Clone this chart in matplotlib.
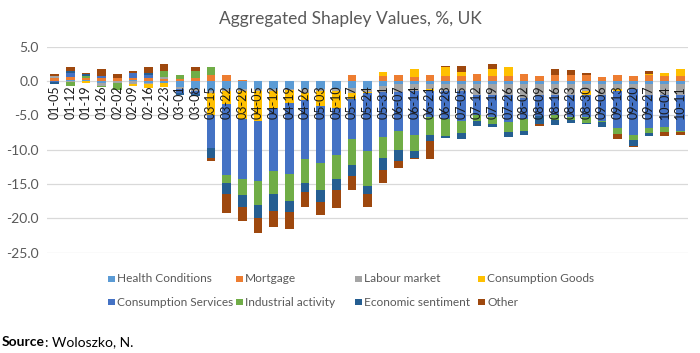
import matplotlib
matplotlib.use("Agg")
import matplotlib.pyplot as plt
from matplotlib.patches import Rectangle
import numpy as np

plt.rcParams['font.family'] = ['Lato', 'DejaVu Sans']

dates = ["01-05", "01-12", "01-19", "01-26", "02-02", "02-09", "02-16", "02-23", "03-01", "03-08",
         "03-15", "03-22", "03-29", "04-05", "04-12", "04-19", "04-26", "05-03", "05-10", "05-17",
         "05-24", "05-31", "06-07", "06-14", "06-21", "06-28", "07-05", "07-12", "07-19", "07-26",
         "08-02", "08-09", "08-16", "08-23", "08-30", "09-06", "09-13", "09-20", "09-27", "10-04",
         "10-11"]

health = [0.0, 0.2, 0.1, -0.3, 0.0, 0.1, -0.3, -0.3, -0.9, -1.2,
          -1.5, -1.2, -1.2, -1.2, -1.2, -1.2, -1.2, -1.2, -1.2, -1.0,
          -1.2, -0.8, -0.5, -0.5, -0.5, -0.5, -0.5, -0.5, -0.4, -0.4,
          -0.4, -0.4, -0.4, -0.4, -0.4, -0.4, -0.4, -0.4, -0.4, -0.4,
          -0.4]
mortgage = [0.5, 0.4, 0.4, 0.4, 0.5, 0.4, 0.4, 0.3, 0.3, 0.4,
            0.9, 0.8, 0.1, 0.0, 0.0, 0.0, 0.0, 0.0, 0.0, 0.9,
            0.0, 0.7, 0.9, 0.6, 0.8, 0.7, 0.7, 1.0, 0.7, 0.7,
            1.0, 0.7, 0.9, 0.9, 0.8, 0.6, 0.8, 0.7, 0.8, 0.7,
            0.7]
labour = [0.2, -0.2, 0.0, -0.4, -0.3, -0.4, -0.2, 0.3, -0.3, -0.3,
          -0.3, -0.3, -0.2, -0.2, -0.2, -0.1, -0.5, -0.2, -0.3, -0.8,
          -0.4, -0.8, -1.1, -1.0, -0.7, -1.0, -1.0, -1.5, -1.6, -1.6,
          -2.1, -1.6, -1.6, -1.6, -1.1, -1.6, -0.8, -0.8, -1.6, -1.6,
          -1.6]
goods = [0.0, 0.0, -0.3, 0.0, 0.0, -0.3, -0.5, -0.6, 0.0, 0.0,
         -3.1, -1.8, -4.2, -4.4, -2.6, -1.9, -1.0, -2.2, -2.5, -0.8,
         -0.2, 0.6, 0.0, 1.2, -0.3, 1.4, 0.6, 0.0, 1.0, 1.3,
         0.0, 0.0, 0.0, 0.0, -0.5, 0.0, -0.3, 0.0, 0.2, 0.4,
         1.0]
services = [-0.1, 0.5, 0.0, 0.3, 0.0, 0.6, 0.4, 0.0, -0.6, -0.4,
            -4.9, -10.4, -8.6, -8.8, -9.1, -10.4, -8.7, -8.4, -6.8, -5.9,
            -8.4, -6.6, -5.7, -6.3, -3.7, -4.0, -4.4, -3.0, -3.2, -4.0,
            -3.0, -3.1, -3.0, -3.2, -3.2, -3.8, -5.3, -6.7, -4.8, -4.7,
            -5.3]
industrial = [0.0, -0.5, 0.2, -0.2, -1.0, 0.0, 0.0, 0.8, 0.6, 1.0,
              1.2, -1.2, -2.4, -3.5, -3.3, -3.9, -3.4, -3.8, -3.4, -3.8,
              -5.1, -3.0, -2.7, -2.4, -2.6, -2.5, -1.7, -0.8, -1.1, -1.5,
              -1.8, 0.0, -0.7, -0.5, -0.9, -0.2, -0.9, -0.7, -0.8, -0.8,
              -0.2]
sentiment = [-0.3, 0.4, 0.3, 0.0, 0.0, 0.0, 0.3, 0.0, -0.3, -0.3,
             -1.4, -1.5, -1.8, -1.9, -2.5, -1.6, -1.3, -1.8, -1.6, -1.5,
             -1.2, -1.7, -1.7, -1.0, -1.0, -0.3, -0.8, -0.8, -0.4, -0.6,
             -0.5, -1.2, -0.7, -0.4, -0.2, -0.7, 0.0, -0.8, -0.4, 0.0,
             0.0]
other = [0.3, 0.5, 0.2, 1.0, 0.5, 0.4, 0.9, 1.0, 0.0, 0.6,
         -0.4, -2.8, -2.0, -2.1, -2.3, -2.4, -2.3, -1.9, -2.7, -2.1,
         -1.8, -1.9, -0.9, -0.1, -2.5, 0.1, 0.9, 0.0, 0.7, 0.1,
         0.0, -0.3, 0.9, 0.75, 0.4, 0.0, -0.7, -0.2, 0.4, -0.5,
         -0.3]

series_names = ["Health Conditions", "Mortgage", "Labour market", "Consumption Goods",
                "Consumption Services", "Industrial activity", "Economic sentiment", "Other"]
series_values = [health, mortgage, labour, goods, services, industrial, sentiment, other]
colors = ["#5B9BD5", "#ED7D31", "#A5A5A5", "#FFC000", "#4472C4", "#70AD47", "#255E91", "#9E480E"]

W, H = 700, 353
fig = plt.figure(figsize=(W / 100, H / 100), dpi=100)
ax = fig.add_axes([0.067, 0.284, 0.916, 0.584])

x = np.arange(len(dates))
pos_base = np.zeros(len(dates))
neg_base = np.zeros(len(dates))
for name, vals, c in zip(series_names, series_values, colors):
    v = np.array(vals, dtype=float)
    p = np.where(v > 0, v, 0)
    n = np.where(v < 0, v, 0)
    ax.bar(x, p, bottom=pos_base, width=0.55, color=c, zorder=1)
    ax.bar(x, n, bottom=neg_base, width=0.55, color=c, zorder=1)
    pos_base += p
    neg_base += n

ax.set_ylim(-25, 5)
ax.set_xlim(-0.5, len(dates) - 0.5)
yt = np.arange(-25, 5.1, 5)
ax.set_yticks(yt)
ax.set_yticklabels([f"{v:.1f}" for v in yt], fontsize=10, color="#595959")
for v in yt:
    if v != 0:
        ax.axhline(v, color="#D9D9D9", lw=0.9, zorder=0)

for s in ["top", "right", "left"]:
    ax.spines[s].set_visible(False)
ax.spines["bottom"].set_position(("data", 0))
ax.spines["bottom"].set_color("#D9D9D9")
ax.spines["bottom"].set_linewidth(0.9)
ax.spines["bottom"].set_zorder(0.5)

ax.set_xticks(x)
ax.set_xticklabels(dates, rotation=90, fontsize=9, color="#1a1a1a")
ax.tick_params(axis="both", length=0)
ax.tick_params(axis="x", pad=3)
ax.tick_params(axis="y", pad=6)

fig.text(0.5, 0.945, "Aggregated Shapley Values, %, UK", ha="center", va="center",
         fontsize=12.5, color="#595959")

# legend laid out like the Excel legend: 4 evenly spaced columns, 2 rows
col_px = [108, 236, 355, 478]
row_px = [279, 302]
sq = 6.5
for i, (name, c) in enumerate(zip(series_names, colors)):
    r, k = divmod(i, 4)
    xp, yp = col_px[k], row_px[r]
    fig.patches.append(Rectangle((xp / W, (H - yp - sq / 2) / H), sq / W, sq / H,
                                 transform=fig.transFigure, facecolor=c, edgecolor="none"))
    fig.text((xp + sq + 2.5) / W, (H - yp) / H, name, fontsize=8.6, color="#595959",
             ha="left", va="center")

t1 = fig.text(0.003, 0.03, "Source", fontsize=10, fontweight="bold", ha="left", va="center")
fig.canvas.draw()
bb = t1.get_window_extent()
fig.text(bb.x1 / W, 0.03, ": Woloszko, N.", fontsize=10, ha="left", va="center")

fig.savefig("out.png", dpi=100)
